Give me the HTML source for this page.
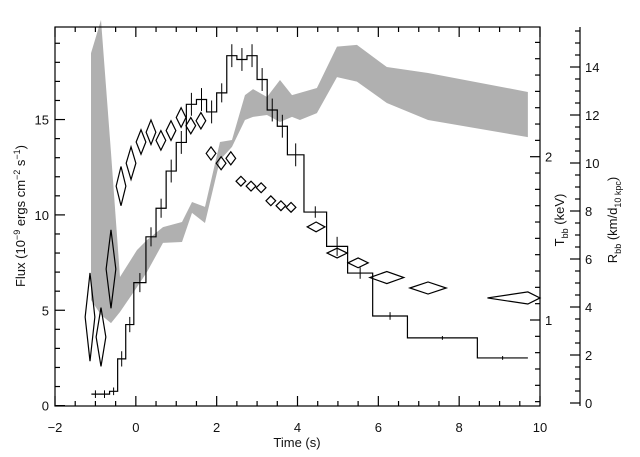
<!DOCTYPE html>
<html><head><meta charset="utf-8"><style>
body{margin:0;background:#fff;}
svg{display:block;font-family:"Liberation Sans",sans-serif;}
text{font-size:13px;fill:#111;}
</style></head><body>
<svg id="chart" width="640" height="457" viewBox="0 0 640 457"></svg>
<script>
// Flux step histogram
const binEdges=[-1.1,-0.9,-0.65,-0.45,-0.25,-0.05,0.25,0.5,0.75,1.0,1.25,1.5,1.75,2.0,2.25,2.5,2.75,3.0,3.25,3.5,3.75,4.16,4.72,5.24,5.86,6.72,8.45,9.7];
const fluxValues=[0.6,0.6,0.75,2.45,4.25,6.45,8.85,10.35,12.3,13.8,15.8,16.05,15.4,16.4,18.35,18.15,18.35,17.1,15.5,14.65,13.15,10.15,8.35,6.95,4.7,3.55,2.5];
const fluxErr=[0.2,0.2,0.2,0.4,0.4,0.5,0.5,0.5,0.6,0.6,0.6,0.6,0.6,0.5,0.6,0.6,0.6,0.6,0.6,0.6,0.6,0.3,0.5,0.3,0.2,0.1,0.1];
// Temperature diamonds (keV)
const tTimes=[-1.134,-0.862,-0.615,-0.367,-0.119,0.128,0.375,0.62,0.87,1.12,1.36,1.61,1.86,2.11,2.35,2.60,2.85,3.10,3.34,3.59,3.84,4.46,4.98,5.5,6.21,7.23,9.70];
const tValues=[1.018,0.896,1.312,1.82,1.96,2.09,2.15,2.10,2.16,2.24,2.19,2.22,2.02,1.96,1.99,1.85,1.82,1.81,1.73,1.70,1.69,1.57,1.41,1.35,1.26,1.196,1.135];
const tErr=[0.27,0.18,0.24,0.12,0.10,0.075,0.075,0.06,0.06,0.06,0.05,0.05,0.04,0.04,0.04,0.03,0.03,0.03,0.03,0.03,0.03,0.03,0.03,0.03,0.037,0.037,0.037];
const tTimeErrLo=[0.12,0.12,0.12,0.12,0.12,0.12,0.12,0.12,0.12,0.12,0.12,0.12,0.12,0.12,0.12,0.12,0.12,0.12,0.12,0.12,0.12,0.22,0.25,0.25,0.42,0.45,1.0];
const tTimeErrHi=[0.12,0.12,0.12,0.12,0.12,0.12,0.12,0.12,0.12,0.12,0.12,0.12,0.12,0.12,0.12,0.12,0.12,0.12,0.12,0.12,0.12,0.22,0.25,0.25,0.42,0.45,0.3];
// Radius band (km / d10kpc)
const rTimes=[-1.109,-0.862,-0.614,-0.392,0.029,0.276,0.672,1.142,1.39,1.711,2.082,2.379,2.70,2.90,3.245,3.567,3.864,4.06,4.48,4.977,5.47,6.21,7.23,9.70];
const rUpper=[14.58,15.96,10.42,5.25,6.375,6.79,7.33,7.54,8.375,8.17,10.875,10.96,12.83,13.08,12.75,13.46,12.83,12.92,13.125,14.85,14.92,14.0,13.75,12.96];
const rLower=[4.29,3.67,3.33,3.79,4.83,5.46,6.67,6.71,7.92,7.5,10.125,10.67,11.79,11.92,12.0,11.71,11.92,11.79,12.08,13.58,13.39,12.5,11.79,11.08];
const xTicks=[-2,0,2,4,6,8,10];
const fluxTicks=[0,5,10,15];
const tTicks=[1,2];
const rTicks=[0,2,4,6,8,10,12,14];

const L=55,R=540,T=27,B=406;
const X=v=>L+(v+2)*(R-L)/12;
const Y=v=>405.6-v*19.07;
const YT=v=>320-(v-1)*163.3;
const YR=v=>403-v*24;
const svg=document.getElementById('chart');
const NS='http://www.w3.org/2000/svg';
function mk(tag,attrs,parent){const e=document.createElementNS(NS,tag);for(const k in attrs)e.setAttribute(k,attrs[k]);(parent||svg).appendChild(e);return e;}

// band
const gBand=mk('g',{});


let pts=rTimes.map((t,i)=>X(t)+','+YR(rUpper[i]));
for(let i=rTimes.length-1;i>=0;i--)pts.push(X(rTimes[i])+','+YR(rLower[i]));
const band=mk('polygon',{points:pts.join(' '),fill:'#b0b0b0',stroke:'none'},gBand);



// flux steps
const gFlux=mk('g',{});


let d='';
fluxValues.forEach((v,i)=>{const x0=X(binEdges[i]),x1=X(binEdges[i+1]),y=Y(v);d+=(i?'L':'M')+x0+','+y+'L'+x1+','+y;});
const fp=mk('path',{d:d,fill:'none',stroke:'#000','stroke-width':1.2},gFlux);


fluxValues.forEach((v,i)=>{const xc=X((binEdges[i]+binEdges[i+1])/2);
 const e=mk('line',{x1:xc,x2:xc,y1:Y(v+fluxErr[i]),y2:Y(v-fluxErr[i]),stroke:'#000','stroke-width':1},gFlux);
 
 });

// diamonds
const gT=mk('g',{});


tTimes.forEach((t,i)=>{const xc=X(t),yc=YT(tValues[i]);
 const xl=X(t-tTimeErrLo[i]),xr=X(t+tTimeErrHi[i]),yt=YT(tValues[i]+tErr[i]),yb=YT(tValues[i]-tErr[i]);
 const p=mk('polygon',{points:`${xl},${yc} ${xc},${yt} ${xr},${yc} ${xc},${yb}`,fill:'none',stroke:'#000','stroke-width':1.2},gT);
 
 });

// axes
const gAx=mk('g',{stroke:'#000','stroke-width':1.2,fill:'none'});


mk('rect',{x:L,y:T,width:R-L,height:B-T},gAx);
mk('line',{x1:580,x2:580,y1:T,y2:B},gAx);
for(let v=-2;v<=10;v+=0.5){const x=X(v),len=(v%2===0)?10:5;mk('line',{x1:x,x2:x,y1:B,y2:B-len},gAx);mk('line',{x1:x,x2:x,y1:T,y2:T+len},gAx);}
for(let v=0;v<=19;v++){const y=Y(v);if(y<T)continue;const len=(v%5===0)?10:5;mk('line',{x1:L,x2:L+len,y1:y,y2:y},gAx);}
for(let v=0.5;v<=2.79;v+=0.1){const y=YT(v);if(y>B||y<T)continue;const len=(Math.abs(v-Math.round(v))<0.01)?10:5;mk('line',{x1:R,x2:R-len,y1:y,y2:y},gAx);}
for(let v=0;v<=15.5;v+=0.5){const y=YR(v);if(y<T)continue;const len=(v%2===0)?10:5;mk('line',{x1:580,x2:580-len,y1:y,y2:y},gAx);}

function txt(s,attrs,name){const e=mk('text',attrs);e.textContent=s;return e;}
xTicks.forEach(v=>txt(v<0?'\u2212'+(-v):String(v),{x:X(v),y:432,'text-anchor':'middle'},'x-tick-label'));
fluxTicks.forEach(v=>txt(String(v),{x:49,y:Y(v)+5,'text-anchor':'end'},'flux-tick-label'));
tTicks.forEach(v=>txt(String(v),{x:545,y:YT(v)+5},'temperature-tick-label'));
rTicks.forEach(v=>txt(String(v),{x:585,y:YR(v)+5},'radius-tick-label'));
txt('Time (s)',{x:297,y:447,'text-anchor':'middle'},'x-axis-title');
const yt=mk('text',{transform:'translate(25,216) rotate(-90)','text-anchor':'middle'});


yt.innerHTML='Flux (10<tspan dy="-5" font-size="9">\u22129</tspan><tspan dy="5"> ergs cm</tspan><tspan dy="-5" font-size="9">\u22122</tspan><tspan dy="5"> s</tspan><tspan dy="-5" font-size="9">\u22121</tspan><tspan dy="5">)</tspan>';
const tt=mk('text',{transform:'translate(564,220) rotate(-90)','text-anchor':'middle'});


tt.innerHTML='T<tspan dy="4" font-size="9">bb</tspan><tspan dy="-4"> (keV)</tspan>';
const rt=mk('text',{transform:'translate(617,220) rotate(-90)','text-anchor':'middle'});


rt.innerHTML='R<tspan dy="4" font-size="9">bb</tspan><tspan dy="-4"> (km/d</tspan><tspan dy="4" font-size="9">10 kpc</tspan><tspan dy="-4">)</tspan>';
</script>
</body></html>
